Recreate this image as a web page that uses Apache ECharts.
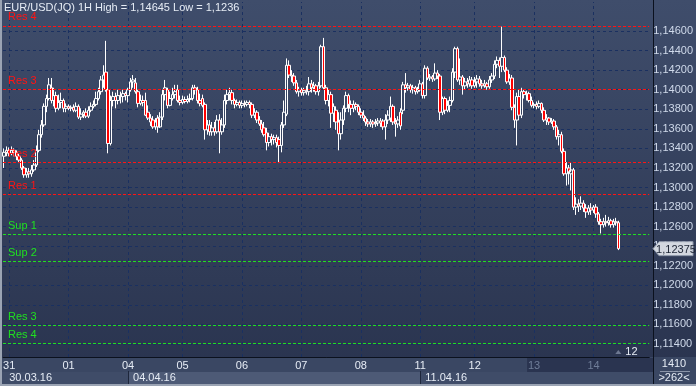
<!DOCTYPE html>
<html><head><meta charset="utf-8">
<script src="https://cdn.jsdelivr.net/npm/echarts@6/dist/echarts.min.js"></script>
<style>
html,body{margin:0;padding:0;}
body{background:linear-gradient(#3f4d6b,#29334e);width:696px;height:386px;overflow:hidden;}
#c{width:696px;height:386px;}
</style>
</head><body><div id="c"></div>
<script>
// ---------- DATA ----------
const titleText = 'EUR/USD(JQ) 1H High = 1,14645 Low = 1,1236';
const dayLabels = ['30','31','01','04','05','06','07','08','11','12','13','14'];
const dimDays = ['13','14'];
// hourly candles per day: [open, close, low, high]
const d30 = [[1.1332,1.1336,1.1320,1.1340],[1.1336,1.1338,1.1332,1.1342]];
const d31 = [[1.1338,1.1335,1.1332,1.1341],[1.1335,1.1338,1.1333,1.1342],[1.1338,1.1336,1.1332,1.1340],[1.1336,1.1332,1.1328,1.1338],
[1.1332,1.1328,1.1325,1.1335],[1.1328,1.1320,1.1318,1.1330],[1.1320,1.1313,1.1310,1.1322],[1.1313,1.1316,1.1310,1.1320],
[1.1316,1.1314,1.1310,1.1320],[1.1314,1.1318,1.1311,1.1323],[1.1318,1.1323,1.1316,1.1328],[1.1323,1.1338,1.1321,1.1343],
[1.1338,1.1354,1.1336,1.1359],[1.1354,1.1364,1.1351,1.1369],[1.1364,1.1383,1.1362,1.1386],[1.1383,1.1391,1.1377,1.1395],
[1.1391,1.1405,1.1389,1.1412],[1.1402,1.1389,1.1386,1.1412],[1.1389,1.1394,1.1383,1.1402],[1.1394,1.1381,1.1377,1.1398],
[1.1381,1.1387,1.1379,1.1395],[1.1387,1.1389,1.1381,1.1397],[1.1389,1.1381,1.1377,1.1391],[1.1381,1.1383,1.1377,1.1386]];
const d01 = [[1.1383,1.1381,1.1379,1.1385],[1.1381,1.1382,1.1378,1.1384],[1.1382,1.1379,1.1377,1.1385],[1.1379,1.1383,1.1377,1.1387],
[1.1383,1.1372,1.1370,1.1385],[1.1372,1.1375,1.1369,1.1381],[1.1375,1.1377,1.1371,1.1379],[1.1377,1.1373,1.1371,1.1381],
[1.1373,1.1379,1.1371,1.1383],[1.1379,1.1383,1.1377,1.1387],[1.1383,1.1385,1.1381,1.1389],[1.1385,1.1391,1.1383,1.1398],
[1.1391,1.1398,1.1389,1.1402],[1.1398,1.1410,1.1395,1.1414],[1.1410,1.1415,1.1402,1.1425],[1.1418,1.1400,1.1398,1.1450],
[1.1400,1.1345,1.1335,1.1402],[1.1345,1.1389,1.1343,1.1394],[1.1389,1.1393,1.1383,1.1398],[1.1393,1.1389,1.1381,1.1397],
[1.1389,1.1394,1.1385,1.1400],[1.1394,1.1393,1.1386,1.1398],[1.1393,1.1396,1.1387,1.1400],[1.1396,1.1394,1.1389,1.1398]];
const d04 = [[1.1394,1.1400,1.1387,1.1402],[1.1400,1.1408,1.1398,1.1412],[1.1408,1.1410,1.1402,1.1415],[1.1407,1.1398,1.1396,1.1412],
[1.1398,1.1386,1.1382,1.1400],[1.1386,1.1389,1.1384,1.1395],[1.1389,1.1387,1.1383,1.1394],[1.1389,1.1374,1.1373,1.1397],
[1.1377,1.1371,1.1369,1.1384],[1.1371,1.1367,1.1363,1.1375],[1.1369,1.1362,1.1360,1.1373],[1.1362,1.1367,1.1359,1.1371],
[1.1371,1.1362,1.1356,1.1374],[1.1362,1.1372,1.1361,1.1377],[1.1372,1.1395,1.1369,1.1400],[1.1395,1.1402,1.1389,1.1410],
[1.1400,1.1384,1.1381,1.1402],[1.1384,1.1391,1.1383,1.1398],[1.1391,1.1395,1.1389,1.1402],[1.1395,1.1398,1.1391,1.1405],
[1.1400,1.1389,1.1387,1.1405],[1.1389,1.1387,1.1384,1.1394]];
const d05 = [[1.1387,1.1390,1.1385,1.1394],[1.1390,1.1388,1.1386,1.1393],[1.1388,1.1390,1.1386,1.1394],[1.1390,1.1391,1.1387,1.1396],
[1.1391,1.1402,1.1389,1.1405],[1.1402,1.1400,1.1395,1.1405],[1.1400,1.1389,1.1386,1.1403],[1.1389,1.1386,1.1383,1.1396],
[1.1391,1.1384,1.1382,1.1395],[1.1385,1.1359,1.1349,1.1387],[1.1359,1.1364,1.1354,1.1369],[1.1364,1.1357,1.1353,1.1369],
[1.1357,1.1361,1.1353,1.1367],[1.1361,1.1357,1.1353,1.1367],[1.1357,1.1369,1.1355,1.1374],[1.1369,1.1357,1.1335,1.1375],
[1.1357,1.1364,1.1354,1.1371],[1.1364,1.1389,1.1361,1.1395],[1.1389,1.1395,1.1385,1.1400],[1.1395,1.1397,1.1389,1.1402],
[1.1397,1.1389,1.1385,1.1400],[1.1389,1.1385,1.1381,1.1391],[1.1385,1.1387,1.1383,1.1390],[1.1387,1.1384,1.1381,1.1389]];
const d06 = [[1.1384,1.1386,1.1381,1.1389],[1.1386,1.1385,1.1382,1.1389],[1.1385,1.1387,1.1383,1.1389],[1.1387,1.1385,1.1381,1.1389],
[1.1385,1.1374,1.1371,1.1387],[1.1374,1.1377,1.1371,1.1381],[1.1377,1.1369,1.1366,1.1379],[1.1369,1.1365,1.1363,1.1373],
[1.1365,1.1359,1.1356,1.1369],[1.1361,1.1354,1.1352,1.1367],[1.1356,1.1346,1.1338,1.1361],[1.1346,1.1352,1.1342,1.1356],
[1.1352,1.1349,1.1343,1.1355],[1.1349,1.1351,1.1344,1.1354],[1.1351,1.1346,1.1341,1.1354],[1.1349,1.1343,1.1325,1.1352],
[1.1343,1.1364,1.1336,1.1367],[1.1364,1.1377,1.1361,1.1389],[1.1375,1.1425,1.1373,1.1432],[1.1425,1.1415,1.1412,1.1430],
[1.1415,1.1414,1.1408,1.1420],[1.1414,1.1407,1.1404,1.1417],[1.1407,1.1398,1.1396,1.1410],[1.1398,1.1400,1.1393,1.1403]];
const d07 = [[1.1400,1.1397,1.1394,1.1402],[1.1397,1.1399,1.1394,1.1402],[1.1399,1.1398,1.1395,1.1404],[1.1398,1.1406,1.1394,1.1413],
[1.1406,1.1402,1.1397,1.1410],[1.1402,1.1404,1.1398,1.1408],[1.1404,1.1398,1.1395,1.1406],[1.1398,1.1404,1.1394,1.1408],
[1.1404,1.1444,1.1402,1.1446],[1.1444,1.1402,1.1400,1.1453],[1.1402,1.1389,1.1385,1.1405],[1.1389,1.1395,1.1383,1.1400],
[1.1395,1.1376,1.1361,1.1398],[1.1376,1.1383,1.1367,1.1386],[1.1379,1.1367,1.1359,1.1383],[1.1367,1.1355,1.1338,1.1377],
[1.1355,1.1369,1.1349,1.1377],[1.1369,1.1381,1.1364,1.1384],[1.1381,1.1394,1.1377,1.1398],[1.1394,1.1385,1.1377,1.1396],
[1.1385,1.1381,1.1374,1.1389],[1.1381,1.1385,1.1377,1.1389],[1.1385,1.1383,1.1379,1.1387],[1.1383,1.1377,1.1374,1.1385]];
const d08 = [[1.1377,1.1374,1.1371,1.1381],[1.1374,1.1371,1.1368,1.1379],[1.1371,1.1367,1.1363,1.1373],[1.1367,1.1365,1.1362,1.1370],
[1.1365,1.1367,1.1362,1.1370],[1.1367,1.1365,1.1361,1.1369],[1.1365,1.1366,1.1362,1.1370],[1.1366,1.1368,1.1363,1.1371],
[1.1368,1.1366,1.1362,1.1371],[1.1368,1.1362,1.1359,1.1370],[1.1362,1.1369,1.1349,1.1375],[1.1369,1.1374,1.1365,1.1379],
[1.1371,1.1383,1.1367,1.1393],[1.1383,1.1367,1.1364,1.1385],[1.1367,1.1365,1.1352,1.1371],[1.1365,1.1369,1.1361,1.1373],
[1.1377,1.1363,1.1359,1.1381],[1.1379,1.1405,1.1375,1.1408],[1.1405,1.1402,1.1397,1.1417],[1.1402,1.1404,1.1399,1.1407],
[1.1404,1.1400,1.1397,1.1406],[1.1400,1.1402,1.1396,1.1405],[1.1402,1.1398,1.1395,1.1404],[1.1398,1.1400,1.1396,1.1403]];
const d11 = [[1.1400,1.1406,1.1398,1.1410],[1.1406,1.1394,1.1391,1.1408],[1.1394,1.1422,1.1391,1.1425],[1.1422,1.1412,1.1410,1.1424],
[1.1412,1.1413,1.1409,1.1416],[1.1413,1.1411,1.1408,1.1415],[1.1411,1.1417,1.1409,1.1427],[1.1417,1.1414,1.1411,1.1420],
[1.1414,1.1377,1.1369,1.1416],[1.1377,1.1391,1.1374,1.1393],[1.1391,1.1379,1.1375,1.1393],[1.1379,1.1384,1.1377,1.1389],
[1.1384,1.1389,1.1377,1.1393],[1.1389,1.1418,1.1387,1.1422],[1.1418,1.1442,1.1412,1.1444],[1.1442,1.1410,1.1408,1.1444],
[1.1410,1.1413,1.1405,1.1432],[1.1413,1.1404,1.1395,1.1415],[1.1404,1.1408,1.1400,1.1412],[1.1408,1.1406,1.1402,1.1412],
[1.1406,1.1410,1.1403,1.1414],[1.1410,1.1404,1.1401,1.1413]];
const d12 = [[1.1404,1.1408,1.1402,1.1413],[1.1408,1.1411,1.1402,1.1415],[1.1411,1.1406,1.1403,1.1414],[1.1406,1.1404,1.1401,1.1410],
[1.1404,1.1406,1.1402,1.1410],[1.1406,1.1403,1.1400,1.1408],[1.1403,1.1410,1.1401,1.1414],[1.1410,1.1414,1.1407,1.1417],
[1.1414,1.1426,1.1411,1.1430],[1.1426,1.1430,1.1422,1.1434],[1.1430,1.1424,1.1412,1.1433],[1.1424,1.1433,1.1418,1.14645],
[1.1433,1.1420,1.1418,1.1435],[1.1420,1.1408,1.1406,1.1423],[1.1408,1.1412,1.1405,1.1416],[1.1412,1.1382,1.1379,1.1415],
[1.1382,1.1369,1.1361,1.1385],[1.1369,1.1393,1.1343,1.1397],[1.1393,1.1374,1.1371,1.1400],[1.1374,1.1398,1.1371,1.1402],
[1.1398,1.1395,1.1391,1.1400],[1.1395,1.1396,1.1389,1.1399],[1.1396,1.1389,1.1387,1.1398],[1.1389,1.1384,1.1382,1.1393]];
const d13 = [[1.1384,1.1385,1.1381,1.1387],[1.1385,1.1383,1.1380,1.1388],[1.1383,1.1386,1.1381,1.1389],[1.1386,1.1379,1.1376,1.1387],
[1.1379,1.1369,1.1367,1.1382],[1.1369,1.1371,1.1364,1.1375],[1.1371,1.1367,1.1364,1.1372],[1.1367,1.1368,1.1365,1.1371],
[1.1368,1.1362,1.1359,1.1370],[1.1362,1.1352,1.1349,1.1364],[1.1352,1.1354,1.1343,1.1359],[1.1354,1.1337,1.1335,1.1357],
[1.1337,1.1314,1.1312,1.1340],[1.1314,1.1320,1.1302,1.1326],[1.1320,1.1316,1.1303,1.1323],[1.1314,1.1318,1.1297,1.1326],
[1.1318,1.1280,1.1277,1.1320],[1.1280,1.1283,1.1272,1.1290],[1.1283,1.1281,1.1275,1.1288],[1.1281,1.1284,1.1277,1.1291],
[1.1284,1.1279,1.1275,1.1287],[1.1279,1.1275,1.1269,1.1283],[1.1275,1.1279,1.1272,1.1282],[1.1279,1.1277,1.1272,1.1284]];
const d14 = [[1.1277,1.1280,1.1274,1.1282],[1.1280,1.1273,1.1269,1.1283],[1.1273,1.1265,1.1262,1.1275],[1.1265,1.1262,1.1253,1.1268],
[1.1262,1.1265,1.1259,1.1269],[1.1265,1.1264,1.1260,1.1272],[1.1264,1.1266,1.1261,1.1270],[1.1266,1.1262,1.1259,1.1268],
[1.1262,1.1265,1.1259,1.1268],[1.1265,1.1264,1.1261,1.1269],[1.1264,1.12375,1.1236,1.1266]];
const dayCandles = [d30,d31,d01,d04,d05,d06,d07,d08,d11,d12,d13,d14];
const emptySlots = 12;
const weekDates = ['30.03.16','04.04.16','11.04.16'];
const weekStartDays = ['30','04','11'];
const yTicks = [1.114,1.116,1.118,1.120,1.122,1.124,1.126,1.128,1.130,1.132,1.134,1.136,1.138,1.140,1.142,1.144,1.146];
const yMin = 1.11267, yMax = 1.14897;
const levelNames  = ['Res 4','Res 3','Res 2','Res 1','Sup 1','Sup 2','Res 3','Res 4'];
const levelValues = [1.14654,1.14000,1.13258,1.12930,1.12524,1.12248,1.11591,1.11407];
const levelSide   = ['r','r','r','r','s','s','s','s'];
const barsInfo = ['1410','>262<'];
const hourMark = '12';

// ---------- BUILD ----------
const NARROW = '"Liberation Sans Narrow","Liberation Sans",Arial,sans-serif';
const SANS = '"Liberation Sans",Arial,sans-serif';
const fmt = (v)=>(v+1e-9).toFixed(5).replace('.',',');
const cats = [], candles = [], dayStartIdx = {}, dayAt = {};
dayCandles.forEach((d,k)=>{
  dayStartIdx[dayLabels[k]] = cats.length;
  dayAt[cats.length] = dayLabels[k];
  d.forEach((c,h)=>{ cats.push(dayLabels[k]+':'+h); candles.push(c); });
});
for (let i=0;i<emptySlots;i++) cats.push('e'+i);
const weekAt = {};
weekStartDays.forEach((d,k)=>{ weekAt[dayStartIdx[d]] = weekDates[k]; });

const GRIDCOL = '#1a3060';
const gridLine = {type:[3,3], color:GRIDCOL, width:1};
const gridSeries = [];
yTicks.forEach(v=>gridSeries.push({type:'line', data:[], z:1, silent:true,
  markLine:{silent:true, symbol:'none', z:1, precision:6, animation:false,
    lineStyle:gridLine, label:{show:false}, data:[{yAxis:v}]}}));
Object.keys(dayAt).map(Number).filter(i=>i>0).forEach(i=>gridSeries.push({type:'line', data:[], z:1, silent:true,
  markLine:{silent:true, symbol:'none', z:1, animation:false,
    lineStyle:gridLine, label:{show:false}, data:[{xAxis:cats[i]}]}}));

const levelSeries = levelValues.map((v,k)=>{
  const col = levelSide[k]==='r' ? '#ff1414' : '#20e020';
  return {type:'line', data:[], z:4, silent:true,
    markLine:{silent:true, symbol:'none', z:4, precision:6, animation:false,
      lineStyle:{type:[3,2], color:col, width:1},
      label:{show:true, position:'insideStartTop', formatter:levelNames[k], color:col,
        fontSize:11, fontFamily:SANS, distance:[5,3]},
      data:[{yAxis:v}]}};
});

const chart = echarts.init(document.getElementById('c'), null, {renderer:'canvas'});
const option = {
  animation:false,
  backgroundColor:'transparent',
  title:{text:titleText, left:4, top:2, padding:0, z:20,
    textStyle:{color:'#e6ecf5', fontSize:11, fontWeight:'normal', fontFamily:NARROW}},
  grid:{left:3, right:43, top:2, bottom:29},
  xAxis:[{
    type:'category', data:cats, boundaryGap:true, position:'bottom', z:5,
    axisLine:{show:true, lineStyle:{color:'#0b111e', width:1}},
    axisTick:{show:false}, splitLine:{show:false},
    axisLabel:{interval:(i)=>dayAt[i]!==undefined && i>0, formatter:(v,i)=>dayAt[i]||'',
      color:(v,i)=> (dimDays.indexOf(String(v).split(':')[0])>=0 ? '#6f7d98' : '#e6ecf5'),
      fontSize:11, fontFamily:NARROW, margin:3}
  },{
    type:'category', data:cats, boundaryGap:true, position:'bottom', offset:14, z:5,
    axisLine:{show:false},
    axisTick:{show:true, alignWithLabel:true, interval:(i)=>weekAt[i]!==undefined && i>0, length:13,
      lineStyle:{color:'#1d263b'}},
    splitLine:{show:false},
    axisLabel:{interval:(i)=>weekAt[i]!==undefined, formatter:(v,i)=>weekAt[i]||'', align:'left',
      padding:[0,0,0,5], color:'#e6ecf5', fontSize:11, fontFamily:NARROW, margin:1}
  }],
  yAxis:{type:'value', position:'right', min:yMin, max:yMax, z:5,
    axisLine:{show:false}, axisTick:{show:false}, splitLine:{show:false},
    axisLabel:{customValues:yTicks, formatter:(v)=>fmt(v),
      color:'#cfd9ea', fontSize:11, fontFamily:NARROW, margin:4}},
  series:gridSeries.concat([
    {type:'candlestick', data:candles, barWidth:3, z:3, silent:true,
      itemStyle:{color:'transparent', color0:'#ff0000', borderColor:'#ffffff', borderColor0:'#ffffff', borderWidth:1}}
  ]).concat(levelSeries)
};
chart.setOption(option);

// overlays: axis bands, price tag, info box
const last = candles.length-1;
const lastClose = candles[last][1];
const pt = chart.convertToPixel({gridIndex:0}, [last, lastClose]);
const x13 = chart.convertToPixel({gridIndex:0}, [dayStartIdx['13'], lastClose])[0];
const x04 = chart.convertToPixel({gridIndex:0}, [dayStartIdx['04'], lastClose])[0];
const x11 = chart.convertToPixel({gridIndex:0}, [dayStartIdx['11'], lastClose])[0];
chart.setOption({graphic:[
  {type:'rect', z:-5, silent:true, shape:{x:0,y:357,width:653,height:15}, style:{fill:'#3a4763'}},
  {type:'rect', z:-5, silent:true, shape:{x:x13-7,y:358,width:653-(x13-7),height:14}, style:{fill:'#2a3450'}},
  {type:'rect', z:-5, silent:true, shape:{x:0,y:372,width:653,height:12}, style:{fill:'#3f4c68'}},
  {type:'rect', z:-5, silent:true, shape:{x:x04,y:372,width:x11-x04,height:12}, style:{fill:'#4d5a76'}},
  {type:'rect', z:-5, silent:true, shape:{x:653,y:357,width:43,height:27}, style:{fill:'#3a4763'}},
  {type:'rect', z:10, silent:true, shape:{x:653,y:0,width:1,height:386}, style:{fill:'#0b111e'}},
  {type:'rect', z:10, silent:true, shape:{x:0,y:0,width:2,height:386}, style:{fill:'#9aa3b3'}},
  {type:'rect', z:10, silent:true, shape:{x:0,y:384,width:696,height:2}, style:{fill:'#9aa3b3'}},
  {type:'rect', z:10, silent:true, shape:{x:660,y:371,width:30,height:1}, style:{fill:'#8a94a8'}},
  {type:'text', z:10, silent:true, x:674, y:364, style:{text:barsInfo[0], fill:'#e6ecf5', fontSize:11, fontFamily:NARROW, align:'center', verticalAlign:'middle'}},
  {type:'text', z:10, silent:true, x:674, y:378, style:{text:barsInfo[1], fill:'#e6ecf5', fontSize:11, fontFamily:NARROW, align:'center', verticalAlign:'middle'}},
  {type:'polygon', z:10, silent:true, shape:{points:[[653,pt[1]],[659,pt[1]-7],[693,pt[1]-7],[693,pt[1]+7],[659,pt[1]+7]]},
    style:{fill:'#d3d8e0', stroke:'#9099aa', lineWidth:1}},
  {type:'text', z:11, silent:true, x:676, y:pt[1]+1, style:{text:fmt(lastClose), fill:'#1c2434', fontSize:11, fontFamily:NARROW, align:'center', verticalAlign:'middle'}},
  {type:'polygon', z:10, silent:true, shape:{points:[[pt[0]-3,354],[pt[0],350],[pt[0]+3,354]]}, style:{fill:'#6d7891'}},
  {type:'text', z:10, silent:true, x:pt[0]+7, y:352, style:{text:hourMark, fill:'#e6ecf5', fontSize:11, fontFamily:NARROW, verticalAlign:'middle'}}
]});
</script>
</body></html>
